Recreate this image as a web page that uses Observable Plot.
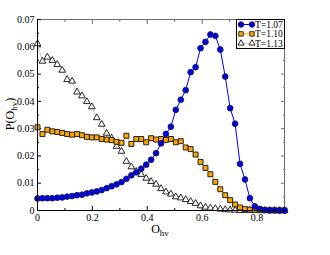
<!DOCTYPE html>
<html>
<head>
<meta charset="utf-8">
<script src="https://cdn.jsdelivr.net/npm/d3@7"></script>
<script src="https://cdn.jsdelivr.net/npm/@observablehq/plot@0.6"></script>
<style>
  html, body { margin: 0; padding: 0; background: #fff; }
  #chart { position: relative; width: 330px; height: 255px; }
</style>
</head>
<body>
<div id="chart"></div>
<script>
// ---- data ----
const xVals = [0,0.018,0.036,0.054,0.072,0.09,0.108,0.126,0.144,0.162,0.18,0.198,0.216,0.234,0.252,0.27,0.288,0.306,0.324,0.342,0.36,0.378,0.396,0.414,0.432,0.45,0.468,0.486,0.504,0.522,0.54,0.558,0.576,0.594,0.612,0.63,0.648,0.666,0.684,0.702,0.72,0.738,0.756,0.774,0.792,0.81,0.828,0.846,0.864,0.882,0.9];
const pT107 = [0.0044,0.0045,0.0045,0.0045,0.0047,0.0048,0.0051,0.0053,0.0056,0.0058,
  0.0063,0.0066,0.0070,0.0075,0.0082,0.0089,0.0096,0.0104,0.0116,0.0129,
  0.0140,0.0153,0.0168,0.0186,0.0210,0.0246,0.0281,0.0307,0.0369,0.0406,
  0.0441,0.0507,0.0525,0.0595,0.0618,0.0645,0.0640,0.0590,0.0491,0.0375,
  0.0318,0.0171,0.0114,0.0045,0.0015,0.0006,0.0002,0.0001,0.0001,0.0,0.0];
const pT110 = [0.0305,0.0280,0.0296,0.0290,0.0288,0.0284,0.0280,0.0278,0.0280,0.0276,
  0.0270,0.0268,0.0268,0.0262,0.0260,0.0258,0.0252,0.0248,0.0274,0.0244,
  0.0262,0.0262,0.0250,0.0265,0.0260,0.0262,0.0259,0.0262,0.0250,0.0254,
  0.0231,0.0225,0.0205,0.0178,0.0156,0.0133,0.0105,0.0078,0.0056,0.0038,
  0.0022,0.0011,0.0005,0.0003,0.0002,0.0001,0.0001,0,0,0,0];
const pT113 = [0.0611,0.0547,0.0562,0.0550,0.0535,0.0514,0.0480,0.0474,0.0434,0.0420,
  0.0399,0.0380,0.0340,0.0316,0.0283,0.0265,0.0235,0.0217,0.0180,0.0160,
  0.0143,0.0132,0.0118,0.0106,0.0096,0.0080,0.0068,0.0060,0.0050,0.0046,
  0.0040,0.0033,0.0026,0.0017,0.0012,0.0009,0.0007,0.0005,0.0003,0.0002,
  0.0001,0,0,0,0,0,0,0,0,0,0];
const seriesNames = ["T=1.07", "T=1.10", "T=1.13"];
const xTicks = [0, 0.2, 0.4, 0.6, 0.8];
const xTickLabels = ["0", "0.2", "0.4", "0.6", "0.8"];
const xMinorTicks = [0.1, 0.3, 0.5, 0.7];
const yTicks = [0, 0.01, 0.02, 0.03, 0.04, 0.05, 0.06, 0.07];
const yTickLabels = ["0", "0.01", "0.02", "0.03", "0.04", "0.05", "0.06", "0.07"];
const yMinorTicks = [0.005, 0.015, 0.025, 0.035, 0.045, 0.055, 0.065];

// ---- tables ----
const mk = (ys) => xVals.map((x, i) => ({x, y: ys[i]}));
const d107 = mk(pT107), d110 = mk(pT110), d113 = mk(pT113);

const FONT = "'Liberation Serif', 'DejaVu Serif', serif";
const frameGray = "#6e6e6e";
const noLabel = () => "";

const plot = Plot.plot({
  width: 330,
  height: 255,
  marginTop: 19,
  marginRight: 46,
  marginBottom: 45,
  marginLeft: 37,
  style: {fontFamily: FONT, fontSize: "10px", background: "white", color: "black"},
  x: {domain: [0, 0.9]},
  y: {domain: [0, 0.07]},
  marks: [
    Plot.frame({stroke: frameGray, strokeWidth: 1}),
    // ticks (inward)
    Plot.axisX(xTicks, {anchor: "bottom", tickSize: -4, tickPadding: 7, tickFormat: (d) => xTickLabels[xTicks.indexOf(d)], label: null, fontSize: 10}),
    Plot.axisX(xMinorTicks, {anchor: "bottom", tickSize: -2, tickFormat: noLabel, label: null}),
    Plot.axisX(xTicks, {anchor: "top", tickSize: -4, tickFormat: noLabel, label: null, stroke: frameGray}),
    Plot.axisX(xMinorTicks, {anchor: "top", tickSize: -2, tickFormat: noLabel, label: null, stroke: frameGray}),
    Plot.axisY(yTicks, {anchor: "left", tickSize: -4, tickPadding: 7, tickFormat: (d) => yTickLabels[yTicks.indexOf(d)], label: null, fontSize: 10}),
    Plot.axisY(yMinorTicks, {anchor: "left", tickSize: -2, tickFormat: noLabel, label: null}),
    Plot.axisY(yTicks, {anchor: "right", tickSize: -4, tickFormat: noLabel, label: null, stroke: frameGray}),
    Plot.axisY(yMinorTicks, {anchor: "right", tickSize: -2, tickFormat: noLabel, label: null, stroke: frameGray}),
    // series
    Plot.line(d113, {x: "x", y: "y", stroke: "#c4c4c4", strokeWidth: 1}),
    Plot.dot(d113, {x: "x", y: "y", symbol: "triangle", r: 2.5, fill: "white", stroke: "#111", strokeWidth: 0.9}),
    Plot.line(d110, {x: "x", y: "y", stroke: "#ffa500", strokeWidth: 1}),
    Plot.dot(d110, {x: "x", y: "y", symbol: "square", r: 2.8, fill: "#ffa500", stroke: "#222", strokeWidth: 1}),
    Plot.line(d107, {x: "x", y: "y", stroke: "#0000ff", strokeWidth: 1}),
    Plot.dot(d107, {x: "x", y: "y", r: 2.9, fill: "#0000dd", stroke: "#1a1a4a", strokeWidth: 0.8}),
    Plot.ruleY([0], {stroke: "black", strokeWidth: 1}),
    Plot.ruleX([0], {stroke: "black", strokeWidth: 1})
  ]
});

document.getElementById("chart").appendChild(plot);

// ---- axis titles and legend ----
const svg = d3.select(plot);

const yl = svg.append("text")
  .attr("transform", "translate(14,114) rotate(-90)")
  .attr("text-anchor", "middle")
  .attr("font-family", FONT)
  .attr("font-size", 12)
  .attr("fill", "black");
yl.append("tspan").text("P(O");
yl.append("tspan").attr("font-size", 9).attr("dy", 3).text("hv");
yl.append("tspan").attr("dy", -3).text(")");

const xl = svg.append("text")
  .attr("x", 160).attr("y", 233)
  .attr("text-anchor", "middle")
  .attr("font-family", FONT)
  .attr("font-size", 12)
  .attr("fill", "black");
xl.append("tspan").text("O");
xl.append("tspan").attr("font-size", 9).attr("dy", 3).text("hv");

const lg = svg.append("g");
lg.append("rect").attr("x", 236.5).attr("y", 19.5).attr("width", 48).attr("height", 29)
  .attr("fill", "white").attr("stroke", "black").attr("stroke-width", 1);
const legendStyles = [
  {line: "#0000ff", sym: d3.symbolCircle, size: 24, fill: "#0000dd", stroke: "#1a1a4a"},
  {line: "#ffa500", sym: d3.symbolSquare, size: 20, fill: "#ffa500", stroke: "#222"},
  {line: "#c4c4c4", sym: d3.symbolTriangle, size: 16, fill: "white", stroke: "#111"}
];
seriesNames.forEach((name, i) => {
  const y = 24.5 + i * 9.4;
  const st = legendStyles[i];
  lg.append("line").attr("x1", 241).attr("x2", 252).attr("y1", y).attr("y2", y)
    .attr("stroke", st.line).attr("stroke-width", 1);
  [241, 252].forEach(x => {
    lg.append("path").attr("d", d3.symbol(st.sym, st.size)())
      .attr("transform", `translate(${x},${y})`)
      .attr("fill", st.fill).attr("stroke", st.stroke).attr("stroke-width", 0.9);
  });
  lg.append("text").attr("x", 255).attr("y", y + 3.2)
    .attr("text-anchor", "start")
    .attr("font-family", FONT).attr("font-size", 9.5).attr("fill", "black").text(name);
});
</script>
</body>
</html>
